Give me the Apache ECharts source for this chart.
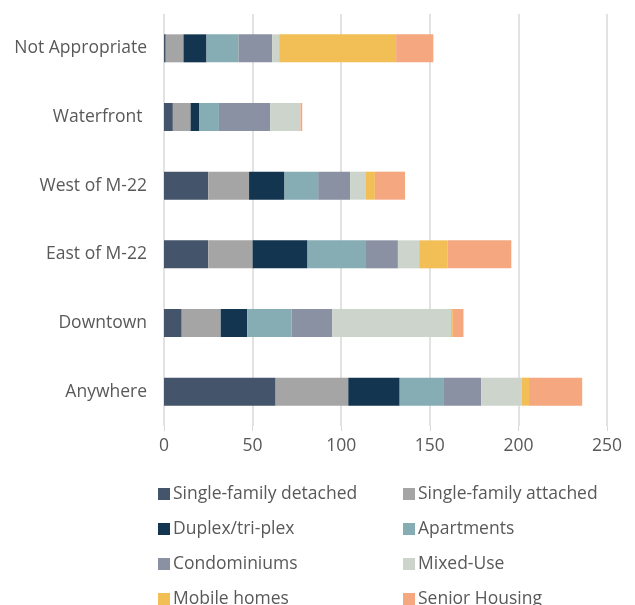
<!DOCTYPE html>
<html>
<head>
<meta charset="utf-8">
<script src="https://cdn.jsdelivr.net/npm/echarts@6/dist/echarts.min.js"></script>
<style>
  html, body { margin: 0; padding: 0; background: #fff; }
  #chart { width: 635px; height: 605px; }
</style>
</head>
<body>
<div id="chart"></div>
<script>
// categories, bottom to top
const categories = ["Anywhere", "Downtown", "East of M-22", "West of M-22", "Waterfront ", "Not Appropriate"];
const xTicks = [0, 50, 100, 150, 200, 250];

const singleDetached = [63, 10, 25, 25, 5, 1];
const singleAttached = [41, 22, 25, 23, 10, 10];
const duplex = [29, 15, 31, 20, 5, 13];
const apartments = [25, 25, 33, 19, 11, 18];
const condominiums = [21, 23, 18, 18, 29, 19];
const mixedUse = [23, 67, 12, 9, 17, 4];
const mobileHomes = [4, 1, 16, 5, 0, 66];
const seniorHousing = [30, 6, 36, 17, 1, 21];

const seriesDefs = [
  ["Single-family detached", singleDetached, "#44546a"],
  ["Single-family attached", singleAttached, "#a5a5a5"],
  ["Duplex/tri-plex", duplex, "#13354f"],
  ["Apartments", apartments, "#87adb4"],
  ["Condominiums", condominiums, "#8a91a2"],
  ["Mixed-Use", mixedUse, "#ccd4cb"],
  ["Mobile homes", mobileHomes, "#f2be56"],
  ["Senior Housing", seniorHousing, "#f5a77f"]
];

const font = "'Open Sans', 'Noto Sans', sans-serif";
const textColor = "#595959";
const fontSize = 17.5;

// one legend per item, two columns, 35px row pitch
const legends = seriesDefs.map(([name], i) => ({
  left: i % 2 === 0 ? 153 : 398,
  top: 480 + Math.floor(i / 2) * 35,
  icon: "rect", itemWidth: 12, itemHeight: 12, itemGap: 3,
  textStyle: { color: textColor, fontSize: fontSize, fontFamily: font, padding: [0, 0, 0, -2] },
  data: [name]
}));

const myChart = echarts.init(document.getElementById("chart"));

const option = {
  animation: false,
  grid: { left: 164, right: 28, top: 14, bottom: 179 },
  legend: legends,
  xAxis: {
    type: "value",
    min: xTicks[0],
    max: xTicks[xTicks.length - 1],
    interval: 50,
    axisLine: { show: false },
    axisTick: { show: true, length: 5, lineStyle: { color: "#d9d9d9" } },
    splitLine: { lineStyle: { color: "#d9d9d9", width: 1.5 } },
    axisLabel: { color: textColor, fontSize: fontSize, fontFamily: font, margin: 11 }
  },
  yAxis: {
    type: "category",
    data: categories,
    axisLine: { show: false },
    axisTick: { show: false },
    axisLabel: { color: textColor, fontSize: fontSize, fontFamily: font, margin: 17 }
  },
  series: seriesDefs.map(([name, data, color]) => ({
    name: name,
    type: "bar",
    stack: "total",
    data: data,
    barWidth: 28,
    itemStyle: { color: color }
  }))
};

option && myChart.setOption(option);
</script>
</body>
</html>
